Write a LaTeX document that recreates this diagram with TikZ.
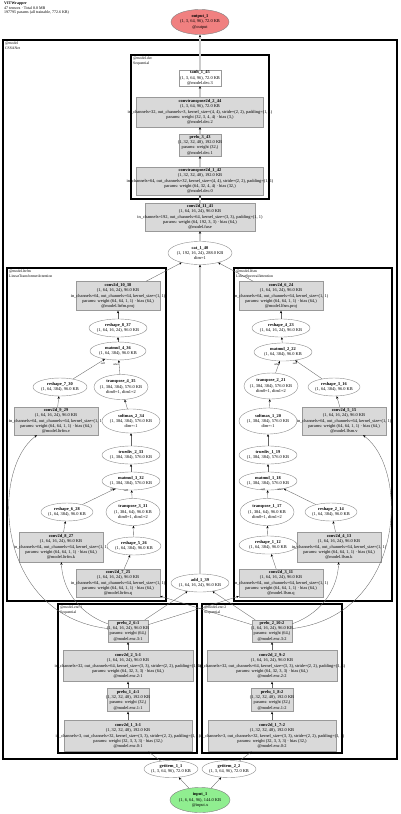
\documentclass[tikz,border=0pt]{standalone}
\usepackage{fontspec}
\setmainfont{Liberation Serif}
\usetikzlibrary{shapes.geometric,arrows.meta}
\definecolor{lcoral}{HTML}{F08080}
\definecolor{lgreen}{HTML}{90EE90}
\definecolor{nodegray}{HTML}{D9D9D9}
\newcommand\ND[6]{\node[#1,minimum width=#4,minimum height=#5] (#2) at (#3) {};\node[txt] (#2t) at (#2.center) {#6};}
\begin{document}
\begin{tikzpicture}[x=1pt,y=-1pt,
 gbx/.style={rectangle,draw=black!40,fill=nodegray,line width=0.4pt,inner sep=0},
 wbx/.style={rectangle,draw=black!40,fill=white,line width=0.4pt,inner sep=0},
 ell/.style={ellipse,draw=black!45,fill=white,line width=0.4pt,inner sep=0},
 txt/.style={align=center,inner sep=0,font=\fontsize{4.4}{5.3}\selectfont},
 frame/.style={draw=black,line width=1.1pt},
 flab/.style={anchor=north west,align=left,inner sep=0,font=\fontsize{3.8}{4.2}\selectfont},
 e/.style={draw=black!60,line width=0.35pt,-{Stealth[length=2.6pt,width=2.2pt,color=black]}},
 ge/.style={draw=black!20,line width=2pt,-{Stealth[length=2.6pt,width=2.4pt,color=black]}},
 elab/.style={inner sep=0,font=\fontsize{2.8}{3}\selectfont}]
\useasboundingbox (0,0) rectangle (400,814);
\node[anchor=north west,align=left,inner sep=0,font=\fontsize{4}{4.4}\selectfont] (hdr) at (4,2)
 {\textbf{VITWrapper}\\47 tensors · Total 8.8 MB\\197795 params (all trainable, 772.6 KB)};
% frames
\draw[frame] (3,40) rectangle (397,759);
\node[flab] (lmodel) at (5,42) {@model\\CSSANet};
\draw[frame] (131,55) rectangle (269,199);
\node[flab] (ldec) at (133,57) {@model.dec\\Sequential};
\draw[frame] (7,268) rectangle (166,601);
\node[flab] (lltr) at (9,270) {@model.ltrfm\\LinearTransformerAttention};
\draw[frame] (234,268) rectangle (392,601);
\node[flab] (llfs) at (236,270) {@model.lfsm\\LinearSpectralAttention};
\draw[frame] (58,604) rectangle (197,753);
\node[flab] (lenc1) at (60,606) {@model.enc:1\\Sequential};
\draw[frame] (202,604) rectangle (342,753);
\node[flab] (lenc2) at (204,606) {@model.enc:2\\Sequential};
% io
\ND{ell,fill=lcoral,draw=black!50}{out}{200,22}{58}{25}{\textbf{output\_1}\\(1, 3, 64, 96), 72.0 KB\\@output}
\ND{ell,fill=lgreen,draw=black!50}{inp}{200,800}{60}{25}{\textbf{input\_1}\\(1, 6, 64, 96), 144.0 KB\\@input.x}
\ND{ell}{g11}{171,769}{54}{17}{\textbf{getitem\_1\_1}\\(1, 3, 64, 96), 72.0 KB}
\ND{ell}{g22}{229,769}{54}{17}{\textbf{getitem\_2\_2}\\(1, 3, 64, 96), 72.0 KB}
% decoder
\ND{wbx}{t45}{200,78}{42}{16}{\textbf{tanh\_1\_45}\\(1, 3, 64, 96), 72.0 KB\\@model.dec.3}
\ND{gbx}{ct44}{200,112}{127}{30}{\textbf{convtranspose2d\_2\_44}\\(1, 3, 64, 96), 72.0 KB\\in\_channels=32, out\_channels=3, kernel\_size=(4, 4), stride=(2, 2), padding=(1, 1)\\params: weight (32, 3, 4, 4) · bias (3,)\\@model.dec.2}
\ND{gbx}{p43}{200,145}{42}{22}{\textbf{prelu\_3\_43}\\(1, 32, 32, 48), 192.0 KB\\params: weight (32,)\\@model.dec.1}
\ND{gbx}{ct42}{200,181}{127}{28}{\textbf{convtranspose2d\_1\_42}\\(1, 32, 32, 48), 192.0 KB\\in\_channels=64, out\_channels=32, kernel\_size=(4, 4), stride=(2, 2), padding=(1, 1)\\params: weight (64, 32, 4, 4) · bias (32,)\\@model.dec.0}
\ND{gbx}{c41}{200,217}{110}{28}{\textbf{conv2d\_11\_41}\\(1, 64, 16, 24), 96.0 KB\\in\_channels=192, out\_channels=64, kernel\_size=(3, 3), padding=(1, 1)\\params: weight (64, 192, 3, 3) · bias (64,)\\@model.fuse}
\ND{ell}{cat}{200,253}{64}{23}{\textbf{cat\_1\_40}\\(1, 192, 16, 24), 288.0 KB\\dim=1}
\ND{ell}{add}{200,583}{58}{18}{\textbf{add\_1\_39}\\(1, 64, 16, 24), 96.0 KB}
% left attention
\ND{gbx}{c1038}{118,296}{84}{29}{\textbf{conv2d\_10\_38}\\(1, 64, 16, 24), 96.0 KB\\in\_channels=64, out\_channels=64, kernel\_size=(1, 1)\\params: weight (64, 64, 1, 1) · bias (64,)\\@model.ltrfm.proj}
\ND{ell}{r837}{118,328}{58}{18}{\textbf{reshape\_8\_37}\\(1, 64, 16, 24), 96.0 KB}
\ND{ell}{m436}{118,351}{56}{18}{\textbf{matmul\_4\_36}\\(1, 64, 384), 96.0 KB}
\ND{ell}{r730}{60,387}{54}{18}{\textbf{reshape\_7\_30}\\(1, 64, 384), 96.0 KB}
\ND{ell}{t435}{121,387}{54}{25}{\textbf{transpose\_4\_35}\\(1, 384, 384), 576.0 KB\\dim0=1, dim1=2}
\ND{gbx}{c929}{56,421}{84}{28}{\textbf{conv2d\_9\_29}\\(1, 64, 16, 24), 96.0 KB\\in\_channels=64, out\_channels=64, kernel\_size=(1, 1)\\params: weight (64, 64, 1, 1) · bias (64,)\\@model.ltrfm.v}
\ND{ell}{s234}{131,421}{58}{24}{\textbf{softmax\_2\_34}\\(1, 384, 384), 576.0 KB\\dim=-1}
\ND{ell}{d233}{131,455}{58}{18}{\textbf{truediv\_2\_33}\\(1, 384, 384), 576.0 KB}
\ND{ell}{m332}{131,481}{58}{18}{\textbf{matmul\_3\_32}\\(1, 384, 384), 576.0 KB}
\ND{ell}{r628}{67,512}{52}{18}{\textbf{reshape\_6\_28}\\(1, 64, 384), 96.0 KB}
\ND{ell}{t331}{133,512}{54}{27}{\textbf{transpose\_3\_31}\\(1, 384, 64), 96.0 KB\\dim0=1, dim1=2}
\ND{gbx}{c827}{61,547}{84}{30}{\textbf{conv2d\_8\_27}\\(1, 64, 16, 24), 96.0 KB\\in\_channels=64, out\_channels=64, kernel\_size=(1, 1)\\params: weight (64, 64, 1, 1) · bias (64,)\\@model.ltrfm.k}
\ND{ell}{r526}{134,546}{54}{18}{\textbf{reshape\_5\_26}\\(1, 64, 384), 96.0 KB}
\ND{gbx}{c725}{118,583}{84}{28}{\textbf{conv2d\_7\_25}\\(1, 64, 16, 24), 96.0 KB\\in\_channels=64, out\_channels=64, kernel\_size=(1, 1)\\params: weight (64, 64, 1, 1) · bias (64,)\\@model.ltrfm.q}
% right attention
\ND{gbx}{c624}{281,296}{84}{29}{\textbf{conv2d\_6\_24}\\(1, 64, 16, 24), 96.0 KB\\in\_channels=64, out\_channels=64, kernel\_size=(1, 1)\\params: weight (64, 64, 1, 1) · bias (64,)\\@model.lfsm.proj}
\ND{ell}{r423}{281,328}{58}{18}{\textbf{reshape\_4\_23}\\(1, 64, 16, 24), 96.0 KB}
\ND{ell}{m222}{283,352}{58}{18}{\textbf{matmul\_2\_22}\\(1, 64, 384), 96.0 KB}
\ND{ell}{t221}{271,386}{54}{26}{\textbf{transpose\_2\_21}\\(1, 384, 384), 576.0 KB\\dim0=1, dim1=2}
\ND{ell}{r316}{334,387}{52}{18}{\textbf{reshape\_3\_16}\\(1, 64, 384), 96.0 KB}
\ND{ell}{s120}{268,421}{58}{26}{\textbf{softmax\_1\_20}\\(1, 384, 384), 576.0 KB\\dim=-1}
\ND{gbx}{c515}{344,421}{84}{28}{\textbf{conv2d\_5\_15}\\(1, 64, 16, 24), 96.0 KB\\in\_channels=64, out\_channels=64, kernel\_size=(1, 1)\\params: weight (64, 64, 1, 1) · bias (64,)\\@model.lfsm.v}
\ND{ell}{d119}{268,455}{58}{18}{\textbf{truediv\_1\_19}\\(1, 384, 384), 576.0 KB}
\ND{ell}{m118}{268,481}{58}{18}{\textbf{matmul\_1\_18}\\(1, 384, 384), 576.0 KB}
\ND{ell}{t117}{267,512}{54}{27}{\textbf{transpose\_1\_17}\\(1, 384, 64), 96.0 KB\\dim0=1, dim1=2}
\ND{ell}{r214}{331,512}{52}{18}{\textbf{reshape\_2\_14}\\(1, 64, 384), 96.0 KB}
\ND{ell}{r112}{268,545}{58}{18}{\textbf{reshape\_1\_12}\\(1, 64, 384), 96.0 KB}
\ND{gbx}{c413}{339,547}{84}{30}{\textbf{conv2d\_4\_13}\\(1, 64, 16, 24), 96.0 KB\\in\_channels=64, out\_channels=64, kernel\_size=(1, 1)\\params: weight (64, 64, 1, 1) · bias (64,)\\@model.lfsm.k}
\ND{gbx}{c311}{281,583}{84}{28}{\textbf{conv2d\_3\_11}\\(1, 64, 16, 24), 96.0 KB\\in\_channels=64, out\_channels=64, kernel\_size=(1, 1)\\params: weight (64, 64, 1, 1) · bias (64,)\\@model.lfsm.q}
% encoders
\ND{gbx}{c13}{128,736}{128}{31}{\textbf{conv2d\_1\_3:1}\\(1, 32, 32, 48), 192.0 KB\\in\_channels=3, out\_channels=32, kernel\_size=(3, 3), stride=(2, 2), padding=(1, 1)\\params: weight (32, 3, 3, 3) · bias (32,)\\@model.enc.0:1}
\ND{gbx}{p14}{128,700}{42}{23}{\textbf{prelu\_1\_4:1}\\(1, 32, 32, 48), 192.0 KB\\params: weight (32,)\\@model.enc.1:1}
\ND{gbx}{c25}{128,666}{130}{31}{\textbf{conv2d\_2\_5:1}\\(1, 64, 16, 24), 96.0 KB\\in\_channels=32, out\_channels=64, kernel\_size=(3, 3), stride=(2, 2), padding=(1, 1)\\params: weight (64, 32, 3, 3) · bias (64,)\\@model.enc.2:1}
\ND{gbx}{p26}{128,631}{40}{22}{\textbf{prelu\_2\_6:1}\\(1, 64, 16, 24), 96.0 KB\\params: weight (64,)\\@model.enc.3:1}
\ND{gbx}{c17}{272,736}{128}{31}{\textbf{conv2d\_1\_7:2}\\(1, 32, 32, 48), 192.0 KB\\in\_channels=3, out\_channels=32, kernel\_size=(3, 3), stride=(2, 2), padding=(1, 1)\\params: weight (32, 3, 3, 3) · bias (32,)\\@model.enc.0:2}
\ND{gbx}{p18}{272,700}{42}{23}{\textbf{prelu\_1\_8:2}\\(1, 32, 32, 48), 192.0 KB\\params: weight (32,)\\@model.enc.1:2}
\ND{gbx}{c29}{272,666}{130}{31}{\textbf{conv2d\_2\_9:2}\\(1, 64, 16, 24), 96.0 KB\\in\_channels=32, out\_channels=64, kernel\_size=(3, 3), stride=(2, 2), padding=(1, 1)\\params: weight (64, 32, 3, 3) · bias (64,)\\@model.enc.2:2}
\ND{gbx}{p210}{272,631}{40}{22}{\textbf{prelu\_2\_10:2}\\(1, 64, 16, 24), 96.0 KB\\params: weight (64,)\\@model.enc.3:2}
% edges: input side
\draw[e] (inp) -- (g11);
\draw[e] (inp) -- (g22);
\draw[e] (g11) -- (c13);
\draw[e] (g22) -- (c17);
\draw[e] (c13) -- (p14);
\draw[e] (p14) -- (c25);
\draw[e] (c25) -- (p26);
\draw[e] (c17) -- (p18);
\draw[e] (p18) -- (c29);
\draw[e] (c29) -- (p210);
\draw[e] (p26) -- (add);
\draw[e] (p210) -- (add);
\draw[e] (p26) -- (c311);
\draw[e] (p210) -- (c725);
\draw[e] (p26) .. controls (-5,615) and (-10,470) .. (c929);
\draw[e] (p26) .. controls (75,612) and (62,585) .. (c827);
\draw[e] (p210) .. controls (405,615) and (410,470) .. (c515);
\draw[e] (p210) .. controls (325,612) and (338,585) .. (c413);
% left attention edges
\draw[e] (c725) -- (r526);
\draw[e] (r526) -- (t331);
\draw[e] (t331) -- (m332);
\draw[e] (c827) -- (r628);
\draw[e] (r628) -- (m332);
\draw[e] (m332) -- (d233);
\draw[e] (d233) -- (s234);
\draw[e] (s234) -- (t435);
\draw[e] (t435) -- (m436);
\draw[e] (c929) -- (r730);
\draw[e] (r730) -- (m436);
\draw[e] (m436) -- (r837);
\draw[e] (r837) -- (c1038);
% right attention edges
\draw[e] (c311) -- (r112);
\draw[e] (r112) -- (t117);
\draw[e] (t117) -- (m118);
\draw[e] (c413) -- (r214);
\draw[e] (r214) -- (m118);
\draw[e] (m118) -- (d119);
\draw[e] (d119) -- (s120);
\draw[e] (s120) -- (t221);
\draw[e] (t221) -- (m222);
\draw[e] (c515) -- (r316);
\draw[e] (r316) -- (m222);
\draw[e] (m222) -- (r423);
\draw[e] (r423) -- (c624);
\draw[e] (c1038) -- (cat);
\draw[e] (c624) -- (cat);
% matmul operand labels
\node[elab] (l1) at (103,364) {self};
\node[elab] (l2) at (116,364.5) {other};
\node[elab] (l3) at (113,490) {other};
\node[elab] (l4) at (126,491) {self};
\node[elab] (l5) at (277,364.5) {other};
\node[elab] (l6) at (295,363.5) {self};
\node[elab] (l7) at (263,490) {self};
\node[elab] (l8) at (280,489.5) {other};
% main spine
\draw[ge] (add) -- (cat);
\draw[ge] (cat) -- (c41);
\draw[ge] (c41) -- (ct42);
\draw[ge] (ct42) -- (p43);
\draw[ge] (p43) -- (ct44);
\draw[ge] (ct44) -- (t45);
\draw[ge] (t45) -- (out);
\end{tikzpicture}
\end{document}
